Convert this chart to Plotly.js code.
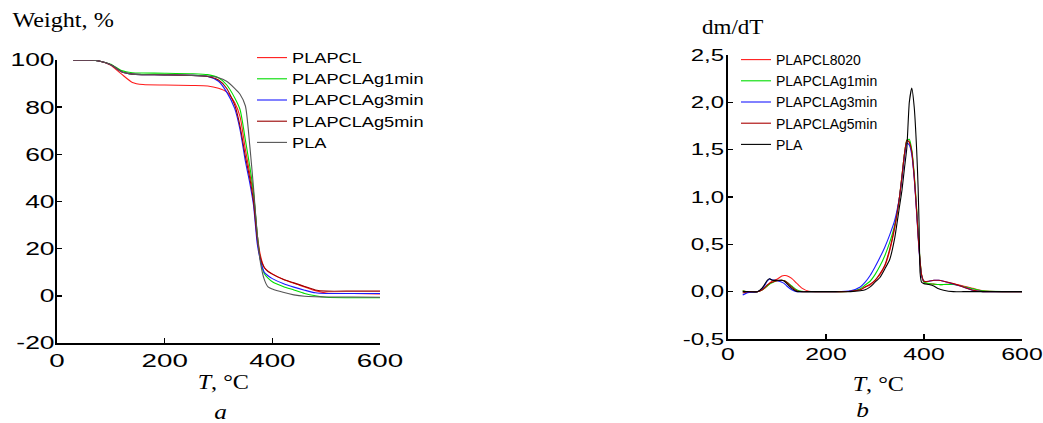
<!DOCTYPE html>
<html>
<head>
<meta charset="utf-8">
<script src="https://cdn.plot.ly/plotly-3.0.1.min.js"></script>
<style>html,body{margin:0;padding:0;background:#fff;}#chart{width:1043px;height:423px;}</style>
</head>
<body>
<div id="chart"></div>
<script>
// ---- Panel a: TGA (weight, %) ----
const tgaT = [30, 60, 80, 100, 120, 140, 160, 200, 250, 280, 300, 315, 330, 340, 350, 358, 365, 372, 378, 385, 392, 400, 420, 440, 460, 480, 500, 550, 600];
const tgaPLAPCL      = [100, 100, 99.5, 97.8, 94, 90.5, 89.6, 89.4, 89.2, 89, 88, 86.5, 82, 76, 62, 52, 43, 26, 17, 12, 10.5, 9.3, 7, 5.3, 3.8, 2.2, 1.2, 1, 0.8];
const tgaAg1min      = [100, 100, 99.5, 98.2, 95.5, 94.6, 94.5, 94.4, 94.2, 93.8, 92.5, 89.5, 84, 79, 66, 55, 44, 26, 15, 9.5, 7.5, 6, 4, 2.5, 1, 0, -0.6, -0.8, -0.8];
const tgaAg3min      = [100, 100, 99.5, 98, 95, 94, 93.8, 93.7, 93.5, 93, 91, 86.5, 79.5, 70.5, 57, 48, 38.5, 22, 15, 10, 8.5, 7.3, 5.2, 3.7, 2.4, 1.3, 1, 1, 1];
const tgaAg5min      = [100, 100, 99.5, 98, 95, 94, 93.8, 93.7, 93.5, 93, 91.5, 88, 81, 72, 59, 50, 40, 24, 16, 12, 10.3, 9.2, 7, 5.5, 4, 2.5, 2, 2, 2];
const tgaPLA         = [100, 100, 99.5, 98, 95, 94, 93.8, 93.7, 93.5, 93.2, 92.5, 91, 88, 85.5, 80.5, 64, 46, 26, 14, 7, 3.8, 2.9, 1.5, 0.4, -0.2, -0.4, -0.5, -0.5, -0.6];
const tgaNames = ["PLAPCL", "PLAPCLAg1min", "PLAPCLAg3min", "PLAPCLAg5min", "PLA"];

// ---- Panel b: DTG (dm/dT) ----
const dtgT = [30, 40, 60, 70, 80, 85, 90, 100, 110, 115, 120, 130, 140, 150, 165, 180, 220, 250, 270, 280, 290, 300, 310, 320, 330, 340, 350, 355, 360, 365, 370, 375, 380, 385, 388, 390, 392, 395, 400, 410, 420, 430, 440, 460, 480, 500, 520, 560, 600];
const dtgPLAPCL8020 = [0.01, 0, 0, 0.02, 0.06, 0.09, 0.11, 0.13, 0.165, 0.17, 0.168, 0.14, 0.09, 0.04, 0.004, 0, 0, 0.005, 0.02, 0.05, 0.07, 0.12, 0.18, 0.27, 0.43, 0.67, 1.0, 1.22, 1.45, 1.6, 1.58, 1.48, 1.22, 0.85, 0.6, 0.45, 0.32, 0.18, 0.1, 0.085, 0.08, 0.075, 0.075, 0.08, 0.06, 0.035, 0.01, 0, 0];
const dtgAg1min     = [0.01, 0, 0, 0.02, 0.06, 0.08, 0.095, 0.115, 0.12, 0.115, 0.1, 0.06, 0.02, 0.003, 0, 0, 0, 0.005, 0.03, 0.07, 0.11, 0.18, 0.27, 0.38, 0.52, 0.7, 1.0, 1.22, 1.45, 1.6, 1.61, 1.5, 1.25, 0.88, 0.62, 0.47, 0.33, 0.18, 0.1, 0.085, 0.08, 0.075, 0.075, 0.075, 0.055, 0.03, 0.008, 0, 0];
const dtgAg3min     = [-0.035, -0.01, 0, 0.03, 0.11, 0.135, 0.125, 0.115, 0.1, 0.085, 0.06, 0.02, 0, 0, 0, 0, 0, 0.01, 0.05, 0.1, 0.17, 0.26, 0.36, 0.47, 0.6, 0.75, 1.0, 1.2, 1.42, 1.57, 1.55, 1.45, 1.2, 0.83, 0.58, 0.43, 0.3, 0.17, 0.11, 0.11, 0.12, 0.12, 0.11, 0.08, 0.05, 0.015, 0, 0, 0];
const dtgAg5min     = [-0.015, 0, 0, 0.02, 0.07, 0.09, 0.1, 0.115, 0.12, 0.115, 0.1, 0.05, 0.01, 0, 0, 0, 0, 0.005, 0.02, 0.05, 0.08, 0.12, 0.19, 0.28, 0.45, 0.68, 1.0, 1.22, 1.45, 1.6, 1.58, 1.48, 1.22, 0.85, 0.6, 0.45, 0.32, 0.18, 0.11, 0.11, 0.12, 0.12, 0.11, 0.085, 0.05, 0.015, 0, 0, 0];
const dtgPLA        = [0, 0, 0, 0.04, 0.12, 0.137, 0.12, 0.12, 0.12, 0.11, 0.085, 0.035, 0.003, 0, 0, 0, 0, 0, 0.01, 0.02, 0.05, 0.1, 0.15, 0.24, 0.34, 0.56, 0.9, 1.07, 1.3, 1.52, 2.0, 2.15, 1.95, 1.5, 1.1, 0.7, 0.2, 0.1, 0.085, 0.075, 0.06, 0.03, 0.015, 0, 0, 0, 0, 0, 0];
const dtgNames = ["PLAPCL8020", "PLAPCLAg1min", "PLAPCLAg3min", "PLAPCLAg5min", "PLA"];

// ---- tick values and labels ----
const xTicks = [0, 200, 400, 600];
const xTickText = ["0", "200", "400", "600"];
const tgaTicks = [-20, 0, 20, 40, 60, 80, 100];
const tgaTickText = ["-20", "0", "20", "40", "60", "80", "100"];
const dtgTicks = [-0.5, 0, 0.5, 1, 1.5, 2, 2.5];
const dtgTickText = ["-0,5", "0,0", "0,5", "1,0", "1,5", "2,0", "2,5"];

const tgaColors = ["#ff1a1a", "#00dd00", "#1a1aff", "#990000", "#555555"];
const dtgColors = ["#ff1a1a", "#00dd00", "#1a1aff", "#aa0000", "#000000"];

const tgaSeries = [tgaPLAPCL, tgaAg1min, tgaAg3min, tgaAg5min, tgaPLA];
const dtgSeries = [dtgPLAPCL8020, dtgAg1min, dtgAg3min, dtgAg5min, dtgPLA];

const traces = [];
tgaSeries.forEach((ys, i) => traces.push({
  x: tgaT, y: ys, name: tgaNames[i], type: "scatter", mode: "lines",
  line: {color: tgaColors[i], width: 1.1, shape: "spline", smoothing: 0.6},
  xaxis: "x", yaxis: "y", legend: "legend"
}));
dtgSeries.forEach((ys, i) => traces.push({
  x: dtgT, y: ys, name: dtgNames[i], type: "scatter", mode: "lines",
  line: {color: dtgColors[i], width: 1.1, shape: "spline", smoothing: 0.5},
  xaxis: "x2", yaxis: "y2", legend: "legend2"
}));

const W = 1043, H = 423;
const sans = "Liberation Sans, Arial, sans-serif";
const serif = "Liberation Serif, Times New Roman, serif";
const axBase = {
  showgrid: false, zeroline: false, showline: true, linecolor: "#000", linewidth: 1.7,
  ticks: "inside", ticklen: 5, tickwidth: 1.5, tickcolor: "#000", tickmode: "array",
  fixedrange: true
};
const leftFont = {family: sans, size: 18.5, color: "#000"};
const rightFont = {family: sans, size: 16, color: "#000"};

const layout = {
  width: W, height: H,
  margin: {l: 0, r: 0, t: 0, b: 0},
  paper_bgcolor: "#fff", plot_bgcolor: "#fff",
  showlegend: true,
  xaxis: Object.assign({}, axBase, {domain: [57 / W, 380 / W], range: [0, 600], tickvals: xTicks, ticktext: xTickText, tickfont: leftFont, anchor: "y"}),
  yaxis: Object.assign({}, axBase, {domain: [(H - 343) / H, (H - 60) / H], range: [-20, 100], tickvals: tgaTicks, ticktext: tgaTickText, tickfont: leftFont, anchor: "x", ticklabelstandoff: -3}),
  xaxis2: Object.assign({}, axBase, {domain: [728 / W, 1022 / W], range: [0, 600], tickvals: xTicks, ticktext: xTickText, tickfont: rightFont, anchor: "y2"}),
  yaxis2: Object.assign({}, axBase, {domain: [(H - 339) / H, (H - 55) / H], range: [-0.5, 2.5], tickvals: dtgTicks, ticktext: dtgTickText, tickfont: rightFont, anchor: "x2", ticklabelstandoff: -1}),
  legend: {x: 252 / W, y: (H - 42) / H, xanchor: "left", yanchor: "top", bgcolor: "rgba(0,0,0,0)",
           font: {family: sans, size: 14, color: "#000"}, itemwidth: 30, tracegroupgap: 0},
  legend2: {x: 736 / W, y: (H - 44) / H, xanchor: "left", yanchor: "top", bgcolor: "rgba(0,0,0,0)",
            font: {family: sans, size: 14, color: "#000"}, itemwidth: 30, tracegroupgap: 0},
  annotations: [
    {text: "Weight, %", xref: "paper", yref: "paper", x: 63 / W, y: (H - 20) / H, xanchor: "center", yanchor: "middle", showarrow: false, font: {family: serif, size: 21, color: "#000"}},
    {text: "dm/dT", xref: "paper", yref: "paper", x: 732 / W, y: (H - 27) / H, xanchor: "center", yanchor: "middle", showarrow: false, font: {family: serif, size: 20, color: "#000"}},
    {text: "<i>T</i>, °C", xref: "paper", yref: "paper", x: 223 / W, y: (H - 382) / H, xanchor: "center", yanchor: "middle", showarrow: false, font: {family: serif, size: 21, color: "#000"}},
    {text: "<i>T</i>, °C", xref: "paper", yref: "paper", x: 878 / W, y: (H - 384) / H, xanchor: "center", yanchor: "middle", showarrow: false, font: {family: serif, size: 21, color: "#000"}},
    {text: "<i>a</i>", xref: "paper", yref: "paper", x: 220 / W, y: (H - 411) / H, xanchor: "center", yanchor: "middle", showarrow: false, font: {family: serif, size: 22, color: "#000"}},
    {text: "<i>b</i>", xref: "paper", yref: "paper", x: 862 / W, y: (H - 409) / H, xanchor: "center", yanchor: "middle", showarrow: false, font: {family: serif, size: 22, color: "#000"}}
  ]
};

// widen glyphs horizontally (the source figure's lettering is horizontally stretched)
function stretchText(gd, selector, factor) {
  gd.querySelectorAll(selector).forEach(t => {
    const w = t.getComputedTextLength();
    if (w > 0) {
      t.setAttribute("textLength", (w * factor).toFixed(2));
      t.setAttribute("lengthAdjust", "spacingAndGlyphs");
    }
  });
}

Plotly.newPlot("chart", traces, layout, {staticPlot: true, displayModeBar: false}).then(gd => {
  stretchText(gd, ".xtick text", 1.5);
  stretchText(gd, ".ytick text", 1.43);
  stretchText(gd, ".x2tick text", 1.55);
  stretchText(gd, ".y2tick text", 1.5);
  stretchText(gd, ".legend .legendtext", 1.3);
  stretchText(gd, ".legend2 .legendtext", 1.2);
  stretchText(gd, ".annotation-text", 1.15);
  // let the widened legend labels show in full
  gd.querySelectorAll(".legend [clip-path], .legend2 [clip-path]").forEach(el => el.removeAttribute("clip-path"));
  gd.querySelectorAll(".legend, .legend2").forEach(el => el.removeAttribute("clip-path"));
});
</script>
</body>
</html>
